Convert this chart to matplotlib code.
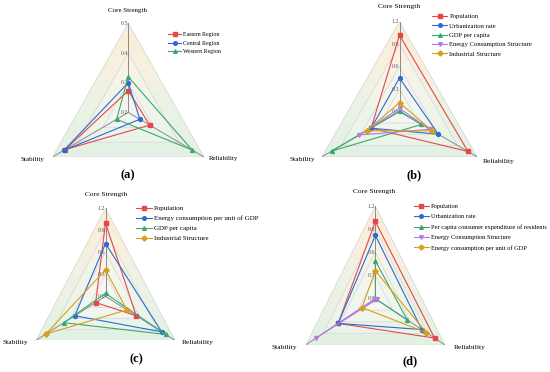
import numpy as np
import matplotlib.pyplot as plt
from matplotlib.patches import Polygon
from matplotlib.lines import Line2D
from matplotlib.colors import LinearSegmentedColormap

plt.rcParams['font.family'] = ['Liberation Serif', 'DejaVu Serif']

W, H = 550, 372
axis_names = ['Core Strength', 'Reliability', 'Stability']
angles = np.deg2rad([90, -30, 210])

# (a)
names_a = ['Eastern Region', 'Central Region', 'Western Region']
core_a = [0.273, 0.300, 0.320]
rel_a = [0.285, 0.246, 0.453]
stab_a = [0.450, 0.455, 0.246]
ticks_a = [0.2, 0.3, 0.4, 0.5]

# (b)
names_b = ['Population', 'Urbanization rate', 'GDP per capita',
           'Energy Consumption Structure', 'Industrial Structure']
core_b = [1.02, 0.45, 0.01, 0.045, 0.12]
rel_b = [1.06, 0.60, 0.34, 0.47, 0.51]
stab_b = [0.44, 0.44, 1.05, 0.62, 0.51]

# (c)
names_c = ['Population', 'Energy consumption per unit of GDP', 'GDP per capita',
           'Industrial Structure']
core_c = [1.00, 0.72, 0.04, 0.36]
rel_c = [0.53, 0.97, 1.04, 0.37]
stab_c = [0.17, 0.53, 0.72, 1.03]

# (d)
names_d = ['Population', 'Urbanization rate', 'Per capita consumer expenditure of residents',
           'Energy Consumption Structure', 'Energy consumption per unit of GDP']
core_d = [1.00, 0.82, 0.49, 0.0, 0.36]
rel_d = [1.02, 0.80, 0.55, 0.02, 0.88]
stab_d = [0.64, 0.64, 0.0, 1.03, 0.23]

ticks_bcd = [0.0, 0.3, 0.6, 0.9, 1.2]

col = {'red': '#e5474b', 'blue': '#2c6bd3', 'green': '#3aa872',
       'purple': '#b47be4', 'yellow': '#d6a01c'}
colors_a = [col['red'], col['blue'], col['green']]
markers_a = ['s', 'o', '^']
colors_b = [col['red'], col['blue'], col['green'], col['purple'], col['yellow']]
markers_b = ['s', 'o', '^', 'v', 'D']
colors_c = [col['red'], col['blue'], col['green'], col['yellow']]
markers_c = ['s', 'o', '^', 'D']

fig = plt.figure(figsize=(5.5, 3.72), dpi=100)
bg = LinearSegmentedColormap.from_list(
    'bg', [(0, '#e2f1e4'), (0.45, '#eef3e4'), (0.7, '#f8f0df'), (1, '#fcedd8')])


def fx(x):
    return x / W


def fy(y):
    return 1 - y / H


def tri(r):
    return np.column_stack([r * np.cos(angles), r * np.sin(angles)])


def radar(box, ticks, names, core, rel, stab, colors, markers,
          leg, leg_fs, gap, name_pos, name_fs, tag, tag_pos):
    left, top, right, bottom = box
    ax = fig.add_axes([fx(left), fy(bottom), fx(right - left), (bottom - top) / H])
    ax.set_xlim(-np.cos(np.pi / 6), np.cos(np.pi / 6))
    ax.set_ylim(-0.5, 1)
    ax.axis('off')
    vmin, vmax = ticks[0], ticks[-1]
    span = vmax - vmin

    # shaded rings
    grad = np.linspace(0, 1, 200)[:, None]
    img = ax.imshow(grad, extent=[-0.87, 0.87, -0.5, 1], origin='lower',
                    cmap=bg, aspect='auto', zorder=0)
    outer = Polygon(tri(1), closed=True, transform=ax.transData)
    img.set_clip_path(outer)
    nb = len(ticks) - 1
    for k in range(nb, 0, -1):
        inner = (k - 1) / nb
        ax.add_patch(Polygon(tri(inner), closed=True, fc='white',
                             alpha=0.22, ec='none', zorder=0.5))
        ax.add_patch(Polygon(tri(k / nb), closed=True, fc='none',
                             ec='#d9d9d9', lw=0.6, zorder=1))
    for a in angles:
        ax.plot([0, np.cos(a)], [0, np.sin(a)], color='#8a8a8a', lw=0.7, zorder=1.5)

    for k, t in enumerate(ticks):
        ax.text(-0.005, k / nb, f'{t:.1f}', ha='right', va='center',
                fontsize=4.2, color='#555555', zorder=2)

    handles = []
    for i, nm in enumerate(names):
        vals = np.array([core[i], rel[i], stab[i]])
        r = (vals - vmin) / span
        xs = r * np.cos(angles)
        ys = r * np.sin(angles)
        ax.plot(np.append(xs, xs[0]), np.append(ys, ys[0]), color=colors[i],
                lw=0.8, zorder=3 + i)
        ax.plot(xs, ys, ls='none', marker=markers[i], ms=2.8, color=colors[i],
                zorder=3 + i)
        handles.append(Line2D([], [], color=colors[i], lw=0.8,
                              marker=markers[i], ms=2.6))

    fig.legend(handles, names, loc='upper left',
               bbox_to_anchor=(fx(leg[0]), fy(leg[1])), frameon=False,
               fontsize=leg_fs, handlelength=2.3, handletextpad=0.3,
               labelspacing=gap, borderpad=0, borderaxespad=0)

    for nm, (x, y) in zip(axis_names, name_pos):
        fig.text(fx(x), fy(y), nm, ha='center', va='center', fontsize=name_fs)
    fig.text(fx(tag_pos[0]), fy(tag_pos[1]), tag, ha='center', va='center',
             fontsize=9, fontweight='bold')


radar((52.5, 23.3, 204, 157), ticks_a, names_a, core_a, rel_a, stab_a,
      colors_a, markers_a, (168, 31.8), 4.2, 0.63,
      [(128, 10.7), (224, 158.3), (32.7, 159.3)], 5, '(a)', (128, 175.5))
radar((322, 21.7, 477, 156.7), ticks_bcd, names_b, core_b, rel_b, stab_b,
      colors_b, markers_b, (432, 13.6), 4.8, 0.55,
      [(399.3, 6.7), (498.3, 161.7), (302.3, 159.3)], 5.4, '(b)', (414.3, 175))
radar((36, 208.3, 175, 340.3), ticks_bcd, names_c, core_c, rel_c, stab_c,
      colors_c, markers_c, (136, 205.5), 5.0, 0.58,
      [(106, 194.3), (197.7, 342.7), (15, 342.7)], 5.4, '(c)', (136.7, 359.3))
radar((305.7, 206, 445, 345), ticks_bcd, names_d, core_d, rel_d, stab_d,
      colors_b, markers_b, (414, 203.6), 4.6, 0.76,
      [(374.3, 192), (470, 347.7), (284, 347)], 5.4, '(d)', (410, 361))

fig.savefig('out.png', dpi=100)
